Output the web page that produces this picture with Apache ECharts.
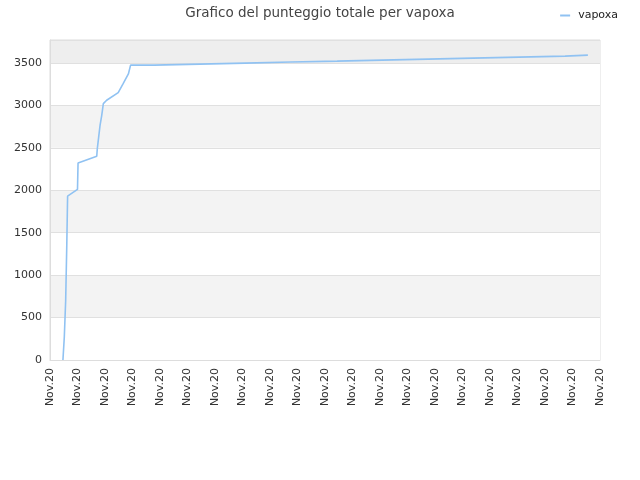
<!DOCTYPE html>
<html>
<head>
<meta charset="utf-8">
<script src="https://cdn.jsdelivr.net/npm/echarts@6/dist/echarts.min.js"></script>
<style>
  html, body { margin: 0; padding: 0; background: #fff; }
  #chart { width: 640px; height: 480px; }
</style>
</head>
<body>
<div id="chart"></div>
<script>
var seriesName = 'vapoxa';
var tickLabel = 'Nov.20';
// position on the time axis (one unit per label) and total score
var xs = [0.47, 0.5, 0.52, 0.57, 0.57, 0.61, 0.61, 0.64, 0.64, 1.0, 1.02, 1.7, 1.72, 1.82, 1.88, 1.94, 2.06, 2.48, 2.66, 2.85, 2.93,
  3.78, 3.78, 5.45, 5.45, 7.09, 7.09, 8.76, 8.76, 10.44, 10.44, 12.07, 12.07, 13.75, 13.75, 15.38, 15.38, 17.05, 17.05, 18.73, 18.73, 19.56];
var ys = [0, 20, 270, 290, 700, 720, 1350, 1370, 1930, 2010, 2320, 2400, 2490, 2765, 2880, 3020, 3060, 3150, 3255, 3370, 3474,
  3474, 3486, 3486, 3498, 3498, 3510, 3510, 3521, 3521, 3533, 3533, 3545, 3545, 3557, 3557, 3568, 3568, 3580, 3580, 3592, 3592];

var points = xs.map(function (x, i) { return [x, ys[i]]; });

var chart = echarts.init(document.getElementById('chart'));
chart.setOption({
  animation: false,
  title: {
    text: 'Grafico del punteggio totale per vapoxa',
    left: 'center',
    top: 1,
    textStyle: { fontSize: 13.5, fontWeight: 'normal', color: '#444', fontFamily: 'DejaVu Sans' }
  },
  legend: {
    right: 17,
    top: 5,
    itemWidth: 10,
    itemHeight: 2,
    icon: 'rect',
    textStyle: { fontSize: 11, color: '#222', fontFamily: 'DejaVu Sans', padding: [0, 0, 0, 3] },
    data: [seriesName]
  },
  grid: {
    left: 50, right: 40, top: 40, bottom: 120,
    show: true, borderColor: '#ddd', borderWidth: 1
  },
  xAxis: {
    type: 'value',
    min: 0, max: 20, interval: 1,
    axisLine: { lineStyle: { color: '#ddd' } },
    axisTick: { show: false },
    splitLine: { show: false },
    axisLabel: {
      rotate: 90,
      margin: 8,
      color: '#333',
      fontSize: 11,
      fontFamily: 'DejaVu Sans',
      formatter: function () { return tickLabel; }
    }
  },
  yAxis: {
    type: 'value',
    min: 0, max: 3770, interval: 500,
    axisLine: { show: true, lineStyle: { color: '#ddd' } },
    axisTick: { show: false },
    splitLine: { lineStyle: { color: '#e0e0e0' } },
    splitArea: {
      show: true,
      areaStyle: { color: ['#fff', '#f3f3f3', '#fff', '#f3f3f3', '#fff', '#f3f3f3', '#fff', '#eeeeee'] }
    },
    axisLabel: {
      color: '#333',
      fontSize: 11,
      fontFamily: 'DejaVu Sans',
      showMaxLabel: false,
      formatter: function (v) { return v % 500 === 0 ? v : ''; }
    }
  },
  series: [{
    name: seriesName,
    type: 'line',
    data: points,
    showSymbol: false,
    lineStyle: { color: '#90c2f2', width: 1.6 },
    itemStyle: { color: '#90c2f2' }
  }]
});
</script>
</body>
</html>
